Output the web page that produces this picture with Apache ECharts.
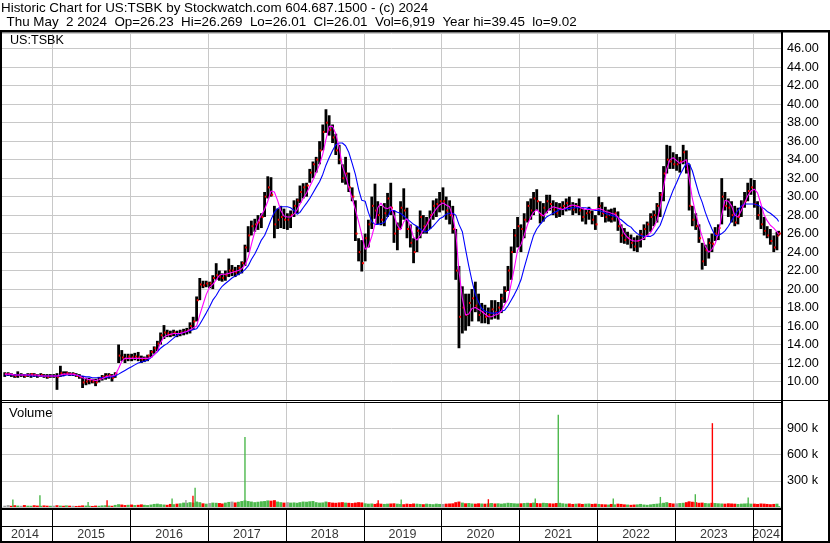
<!DOCTYPE html>
<html><head><meta charset="utf-8">
<script src="https://cdn.jsdelivr.net/npm/echarts@6/dist/echarts.min.js"></script>
<style>html,body{margin:0;padding:0;background:#fff;}#c{width:830px;height:543px;}</style>
</head><body><div id="c"></div>
<script>
const FONT = '"Liberation Sans", Arial, sans-serif';
const titleLine1 = 'Historic Chart for US:TSBK by Stockwatch.com 604.687.1500 - (c) 2024';
const titleLine2 = 'Thu May  2 2024  Op=26.23  Hi=26.269  Lo=26.01  Cl=26.01  Vol=6,919  Year hi=39.45  lo=9.02';
const symbolName = 'US:TSBK';
const volumeTitle = 'Volume';

// year labels of the bottom strip and where they sit
const years = ['2014','2015','2016','2017','2018','2019','2020','2021','2022','2023','2024'];
const yearLabelDates = ['2014-08-26','2015-07-02','2016-07-02','2017-07-02','2018-07-02','2019-07-02','2020-07-02','2021-07-02','2022-07-02','2023-07-02','2024-03-03'];
const yearStarts = ['2015-01-01','2016-01-01','2017-01-01','2018-01-01','2019-01-01','2020-01-01','2021-01-01','2022-01-01','2023-01-01','2024-01-01'];
const axisStart = '2014-05-10', axisEnd = '2024-05-12';

// half-month periods: 2014 May(2nd half) ... 2024 Apr, then 2024-05-01
const lows = [
 10.5,10.6,10.5,10.4,10.4,10.5,10.4,10.5,10.4,10.5,10.4,10.5,10.4,10.3,10.4,
 10.4,9.1,10.5,10.6,10.7,10.6,10.6,10.5,10.3,9.3,9.6,9.7,9.8,9.5,9.9,10.1,10.2,10.3,10.0,10.4,12.0,12.2,12.0,12.2,
 12.2,12.3,12.2,12.0,12.1,12.2,12.6,13.0,13.3,14.0,14.6,14.8,14.8,14.9,14.8,14.9,15.0,15.1,15.2,15.6,16.5,18.8,20.1,20.2,
 20.1,20.0,21.0,20.9,20.8,20.9,21.3,21.4,21.3,21.5,21.7,22.5,24.0,25.8,26.2,26.4,26.6,27.8,29.8,30.0,25.5,26.5,26.6,26.5,
 26.4,26.6,27.8,28.2,29.3,29.8,30.0,31.5,32.0,32.6,33.5,35.0,36.9,36.6,35.8,34.5,33.5,31.5,31.3,30.5,29.5,25.2,23.0,21.9,
 23.0,24.5,26.5,27.6,27.0,26.9,26.8,27.8,28.0,25.0,24.2,26.5,27.5,25.5,24.5,22.8,24.0,25.5,26.0,26.0,26.5,27.5,27.8,28.3,
 28.5,27.5,27.0,26.0,21.0,13.6,15.2,15.5,16.0,16.5,17.5,16.5,16.3,16.3,16.2,16.7,16.8,16.7,17.4,18.5,19.8,21.0,23.9,24.5,
 24.0,25.5,27.2,27.5,28.0,28.5,27.1,27.3,28.2,28.5,28.0,27.7,27.8,28.0,28.4,28.5,28.0,28.2,28.0,27.3,27.0,27.5,27.0,26.4,
 28.0,27.8,27.2,27.3,27.2,27.3,26.3,25.0,24.9,24.8,24.4,24.1,24.0,24.5,25.3,25.8,26.2,26.8,27.2,27.8,29.5,32.5,33.0,33.0,
 32.8,32.6,33.5,32.5,28.5,26.8,26.4,25.0,22.1,22.5,23.3,24.0,25.2,25.3,27.0,28.5,27.8,27.2,26.8,27.0,27.8,28.8,29.5,30.2,
 28.8,27.5,26.5,25.8,25.5,24.8,24.0,24.2,25.8
];
const highs = [
 11.0,11.0,10.9,10.8,11.1,10.9,10.8,10.9,10.9,10.9,10.8,10.9,10.8,10.8,10.8,
 10.8,10.9,11.7,11.1,11.1,11.0,11.0,10.9,10.8,10.6,10.4,10.4,10.3,10.3,10.5,10.7,10.9,10.9,10.8,11.0,14.0,13.4,13.0,13.0,
 13.0,13.1,13.2,12.8,12.7,12.9,13.4,13.8,14.4,15.3,16.1,15.6,15.5,15.6,15.5,15.6,15.7,15.8,16.4,17.0,19.2,21.2,20.9,20.9,
 20.8,21.5,22.8,22.0,21.7,22.0,23.3,22.6,22.4,22.6,23.0,24.8,26.8,27.4,27.6,28.0,28.2,30.5,32.2,32.1,29.0,28.7,29.0,28.7,
 28.2,28.5,29.6,29.8,31.2,31.45,31.5,33.0,33.8,34.3,36.0,37.8,39.45,38.8,37.8,36.8,35.6,33.5,34.3,32.6,31.0,29.6,25.5,25.3,
 26.0,27.5,30.0,31.4,29.5,29.0,29.3,30.4,31.5,28.5,27.2,29.5,30.9,28.8,27.0,25.5,26.8,28.5,28.0,27.8,28.5,29.6,29.8,30.5,
 31.0,30.0,29.6,29.0,26.5,22.5,20.3,19.5,19.5,20.0,20.8,19.5,18.5,18.3,18.0,18.8,18.8,18.6,19.5,20.3,22.5,24.6,26.5,27.8,
 27.0,28.2,29.5,29.8,30.5,30.8,29.5,29.3,30.2,30.2,29.6,29.4,29.3,29.5,29.8,30.0,29.4,29.3,29.8,28.8,28.6,28.9,28.5,28.0,
 30.0,29.4,28.9,28.6,28.7,28.8,28.4,27.0,26.6,26.2,25.9,25.6,25.8,26.4,27.0,27.3,28.2,28.5,29.3,30.5,33.3,35.6,35.5,34.8,
 34.6,34.3,35.6,35.0,33.5,29.0,28.2,27.0,25.0,24.8,25.5,26.0,26.7,27.0,32.0,30.5,29.8,29.5,29.0,28.8,29.6,30.5,31.5,32.0,
 31.8,29.5,28.9,27.8,26.8,26.5,25.8,26.2,26.3
];
const closes = [
 10.8,10.8,10.7,10.6,10.7,10.7,10.6,10.7,10.8,10.7,10.6,10.7,10.6,10.5,10.6,
 10.6,10.5,10.9,10.8,10.9,10.8,10.8,10.6,10.5,9.9,10.0,10.1,10.0,9.9,10.3,10.5,10.6,10.7,10.4,10.9,12.8,12.6,12.5,12.7,
 12.6,12.7,12.6,12.4,12.5,12.8,13.2,13.6,14.1,15.0,15.3,15.2,15.1,15.3,15.1,15.3,15.4,15.5,16.0,16.5,18.8,20.5,20.4,20.6,
 20.6,21.2,21.5,21.3,21.2,21.5,22.0,22.0,21.8,22.3,22.8,24.5,25.8,26.8,27.0,27.2,27.8,30.0,31.0,30.2,27.0,27.5,27.8,27.5,
 27.5,28.0,29.0,29.6,30.5,31.0,31.2,32.6,33.5,34.0,35.0,37.0,38.0,37.2,36.4,35.0,34.0,32.0,32.5,31.0,30.0,26.0,24.0,22.8,
 25.5,27.0,29.0,28.5,28.0,27.5,28.2,29.8,28.8,26.0,26.5,28.8,28.5,26.5,25.0,24.0,26.3,27.8,26.8,27.2,28.0,29.0,29.2,29.5,
 29.5,28.5,28.0,26.5,22.0,17.0,18.0,17.2,18.5,19.0,18.2,17.2,17.5,17.0,17.2,17.8,17.5,18.0,19.0,19.8,22.0,24.0,25.8,26.8,
 26.5,27.5,29.0,28.5,29.8,29.5,28.0,28.8,29.5,29.2,28.6,28.2,28.8,29.0,29.3,29.0,28.6,29.0,28.5,27.8,28.2,28.3,27.5,27.0,
 29.0,28.2,27.8,28.0,27.6,28.2,26.8,25.8,25.3,25.5,25.0,24.6,25.2,25.9,26.5,27.0,27.8,28.0,29.0,30.2,32.5,34.0,33.8,33.5,
 33.5,33.8,34.8,33.0,29.0,27.5,26.8,25.5,23.0,24.2,25.0,24.9,26.0,26.6,30.0,29.0,28.8,28.0,27.2,27.8,29.0,29.5,30.6,31.0,
 29.2,28.0,27.0,26.3,25.8,25.2,24.5,25.8,26.01
];
const shortAvg = [
 10.8,10.8,10.8,10.7,10.7,10.7,10.7,10.7,10.7,10.7,10.7,10.6,10.6,10.6,10.6,
 10.6,10.6,10.7,10.8,10.8,10.8,10.8,10.7,10.6,10.4,10.3,10.2,10.2,10.1,10.2,10.3,10.5,10.6,10.6,10.7,11.4,12.2,12.5,12.5,
 12.5,12.5,12.5,12.5,12.5,12.5,12.6,12.9,13.3,14.2,14.8,15.0,15.1,15.2,15.2,15.2,15.3,15.4,15.6,15.8,16.0,17.2,18.3,19.4,
 20.2,20.5,21.0,21.5,21.6,21.6,21.7,21.8,21.9,22.0,22.2,22.6,23.4,24.8,26.2,27.3,28.0,28.6,29.5,30.6,30.5,29.6,28.5,27.9,
 27.8,27.8,28.1,28.6,29.2,29.8,30.4,31.1,31.8,32.6,33.5,34.6,36.2,37.6,37.6,36.8,35.3,33.3,32.3,31.0,29.8,28.6,27.3,25.9,
 24.3,24.6,25.7,27.0,28.8,29.3,28.8,28.7,28.9,28.0,26.9,26.4,27.3,27.6,26.8,25.6,25.3,25.8,26.4,26.9,27.6,28.2,28.7,29.1,
 29.3,29.1,28.9,27.8,26.2,22.0,19.0,17.2,17.3,17.9,18.0,17.8,17.6,17.3,17.0,17.0,17.2,17.3,17.6,18.3,18.9,20.6,22.3,24.2,
 24.8,25.8,27.0,27.8,28.3,28.6,28.2,27.9,28.3,28.7,28.9,28.8,28.7,28.6,28.8,29.0,29.1,29.0,28.9,28.7,28.6,28.6,28.6,28.6,
 28.7,28.6,28.4,28.3,28.2,28.1,27.8,26.8,26.0,25.6,25.3,25.2,25.2,25.3,25.5,25.8,26.1,26.7,27.4,28.8,31.0,33.0,34.0,34.2,
 33.9,33.6,33.8,34.0,32.0,29.8,28.2,26.8,25.7,24.6,24.0,24.3,24.9,26.0,28.0,29.6,29.5,29.0,28.0,27.8,28.5,29.3,30.1,30.6,
 30.8,30.4,29.2,28.0,27.4,26.9,26.6,26.2,25.9
];
const longAvg = [
 10.7,10.7,10.7,10.7,10.7,10.7,10.7,10.7,10.6,10.6,10.6,10.6,10.6,10.6,10.6,
 10.6,10.6,10.6,10.6,10.7,10.7,10.7,10.7,10.6,10.6,10.5,10.5,10.4,10.4,10.4,10.4,10.4,10.5,10.5,10.6,10.8,11.0,11.2,11.4,
 11.6,11.8,12.0,12.1,12.2,12.3,12.6,12.9,13.2,13.6,13.9,14.1,14.4,14.7,15.0,15.2,15.3,15.4,15.5,15.6,15.7,16.2,16.8,17.4,
 18.1,18.8,19.3,19.9,20.3,20.6,20.9,21.2,21.4,21.6,21.8,22.1,22.5,23.2,23.8,24.5,25.3,25.8,26.6,27.5,28.3,28.7,28.9,28.9,
 28.9,28.8,28.5,28.1,28.3,28.8,29.3,29.8,30.4,31.0,31.6,32.4,33.4,34.2,35.0,35.6,35.8,35.8,35.5,34.8,33.6,32.4,30.8,29.6,
 29.5,28.3,27.3,27.0,27.0,27.1,27.2,27.8,28.5,28.5,28.3,28.2,27.9,27.6,27.3,27.0,26.8,26.5,26.2,26.2,26.5,26.8,27.2,27.6,
 27.8,28.1,28.2,28.2,28.0,27.0,26.2,24.3,22.5,20.9,19.4,18.6,17.9,17.6,17.5,17.4,17.4,17.5,17.6,17.7,18.2,18.8,19.4,20.1,
 21.0,22.3,23.6,24.8,25.8,26.5,27.0,27.4,27.8,28.0,28.2,28.4,28.6,28.6,28.7,28.7,28.8,28.8,28.8,28.8,28.8,28.7,28.6,28.5,
 28.5,28.4,28.2,28.1,28.0,27.9,27.7,27.5,27.2,26.9,26.7,26.3,26.0,25.8,25.7,25.7,25.7,25.9,26.4,26.9,27.9,28.9,29.8,30.7,
 31.5,32.3,33.0,33.6,33.6,32.8,31.5,30.3,29.4,28.3,27.3,26.5,25.8,25.8,26.0,26.3,26.8,27.4,28.0,28.5,29.0,29.2,29.2,29.2,
 29.2,29.1,28.9,28.7,28.4,28.2,27.9,27.6,27.3
];
// volume, thousands of shares (typical level in each half-month)
const volumes = [
 15,22,14,20,16,14,22,15,14,20,16,14,18,15,14,
 15,20,16,14,18,15,14,12,14,18,16,14,12,16,14,18,20,16,14,24,32,28,22,25,
 28,22,25,30,25,22,28,35,38,32,28,25,35,32,38,42,50,48,55,50,62,55,42,38,
 45,50,48,45,40,50,58,62,52,60,68,75,68,62,55,60,65,68,75,72,78,62,55,50,
 55,50,52,48,55,62,60,65,68,55,50,52,62,55,50,48,52,55,50,48,45,50,55,52,
 42,38,40,35,42,38,35,38,40,42,38,35,32,38,35,40,38,35,32,38,35,32,38,35,
 35,38,40,42,55,62,50,42,45,40,38,42,40,38,42,45,40,42,38,42,48,45,42,40,
 42,45,48,44,50,45,42,48,45,42,40,45,48,42,38,40,35,38,40,35,38,40,35,38,
 35,32,30,28,35,30,38,35,30,28,25,28,30,35,28,25,30,35,38,42,48,55,45,40,
 42,45,48,55,65,60,55,48,50,45,42,48,45,42,40,38,42,40,38,35,38,40,42,38,
 38,35,40,38,35,32,35,38,10
];
// single heavy-volume days (thousands)
const spikeUpDates = ['2014-06-30','2014-11-04','2015-06-18','2016-07-16','2016-11-01','2017-06-23','2019-06-26','2021-03-16','2021-07-02','2022-03-17','2022-10-24','2023-04-06','2023-12-10'];
const spikeUpValues = [85,135,58,96,220,800,85,96,1055,96,115,146,108];
const spikeDownDates = ['2015-09-15','2016-10-22','2019-03-10','2020-08-08','2023-06-25'];
const spikeDownValues = [77,130,77,89,958];
const spikeFlatDates = ['2016-09-19'];
const spikeFlatValues = [80];

// ---------- build ----------
const ts = s => { const p = s.split('-').map(Number); return new Date(p[0], p[1] - 1, p[2]).getTime(); };
const periodDates = [];
for (let y = 2014; y <= 2024; y++) {
  for (let m = 1; m <= 12; m++) {
    for (const d of [8, 23]) {
      const s = y + '-' + String(m).padStart(2, '0') + '-' + String(d).padStart(2, '0');
      if (s >= '2014-05-16' && s <= '2024-04-30') periodDates.push(s);
    }
  }
}
periodDates.push('2024-05-01');
const T = periodDates.map(ts);

const GRID_C = '#c8c8c8';
const GREEN = '#4cb84c', RED = '#ff0000', GREY = '#a0a0a0';

const ohlcData = T.map((t, i) => [t, lows[i], highs[i], closes[i]]);
const volData = T.map((t, i) => [t, volumes[i], i === 0 ? 0 : Math.sign(closes[i] - closes[i - 1])]);

function yearLineSeries(xi, color) {
  return {
    type: 'custom', xAxisIndex: xi, yAxisIndex: xi, clip: false, silent: true, z: 1,
    data: yearStarts.map(s => [ts(s), 0]), encode: { x: 0, y: 1 },
    renderItem: (params, api) => {
      const x = Math.round(api.coord([api.value(0), 0])[0]) + 0.5;
      const cs = params.coordSys;
      return { type: 'line', shape: { x1: x, y1: cs.y, x2: x, y2: cs.y + cs.height }, style: { stroke: color, lineWidth: 1 } };
    }
  };
}
function volBarSeries(data, color, w) {
  return {
    type: 'custom', xAxisIndex: 1, yAxisIndex: 1, clip: true, silent: true, z: 3,
    data: data, encode: { x: 0, y: 1 },
    renderItem: (params, api) => {
      const top = api.coord([api.value(0), api.value(1)]);
      const base = api.coord([api.value(0), 0]);
      let c = color;
      if (!c) { const d = api.value(2); c = d > 0 ? GREEN : (d < 0 ? RED : GREY); }
      return { type: 'rect', shape: { x: top[0] - w / 2, y: top[1], width: w, height: base[1] - top[1] }, style: { fill: c } };
    }
  };
}

const chart = echarts.init(document.getElementById('c'), null, { renderer: 'canvas' });
const txt = (text, x, y, size) => ({ type: 'text', x: x, y: y, z: 120, silent: true,
  style: { text: text, fill: '#000', font: size + 'px ' + FONT, verticalAlign: 'middle', align: 'left' } });
const box = (x, y, w, h) => ({ type: 'rect', z: 110, silent: true, shape: { x: x, y: y, width: w, height: h }, style: { fill: '#000' } });

chart.setOption({
  animation: false,
  backgroundColor: '#fff',
  grid: [
    { left: 2, top: 33, width: 779, height: 367 },
    { left: 2, top: 402, width: 779, height: 105 },
    { left: 2, top: 510, width: 779, height: 31 }
  ],
  xAxis: [0, 1, 2].map(i => ({ gridIndex: i, type: 'time', min: ts(axisStart), max: ts(axisEnd), show: false })),
  yAxis: [
    { gridIndex: 0, type: 'value', position: 'right', min: 8, max: 47.7, interval: 2,
      axisLine: { show: false }, axisTick: { show: false },
      splitLine: { show: true, lineStyle: { color: GRID_C, width: 1 } },
      axisLabel: { margin: 6, color: '#000', fontSize: 12.7, fontFamily: FONT, showMinLabel: false, showMaxLabel: false,
        formatter: v => v.toFixed(2) } },
    { gridIndex: 1, type: 'value', position: 'right', min: 0, max: 1200, interval: 300,
      axisLine: { show: false }, axisTick: { show: false },
      splitLine: { show: true, lineStyle: { color: GRID_C, width: 1 } },
      axisLabel: { margin: 6, color: '#000', fontSize: 12.7, fontFamily: FONT, showMinLabel: false, showMaxLabel: false,
        formatter: v => v + ' k' } },
    { gridIndex: 2, type: 'value', min: 0, max: 1, show: false }
  ],
  series: [
    yearLineSeries(0, GRID_C),
    yearLineSeries(1, GRID_C),
    yearLineSeries(2, '#000'),
    {
      type: 'custom', name: 'price', xAxisIndex: 0, yAxisIndex: 0, clip: true, silent: true, z: 2,
      data: ohlcData, encode: { x: 0, y: [1, 2, 3] },
      renderItem: (params, api) => {
        const t = api.value(0);
        const lo = api.coord([t, api.value(1)]);
        const hi = api.coord([t, api.value(2)]);
        const cl = api.coord([t, api.value(3)]);
        return { type: 'group', children: [
          { type: 'rect', shape: { x: lo[0] - 1.4, y: hi[1], width: 2.8, height: Math.max(1, lo[1] - hi[1]) }, style: { fill: '#000' } },
          { type: 'rect', shape: { x: cl[0] + 0.2, y: cl[1] - 1, width: 2, height: 2 }, style: { fill: RED } }
        ] };
      }
    },
    { type: 'line', xAxisIndex: 0, yAxisIndex: 0, data: T.map((t, i) => [t, longAvg[i]]), showSymbol: false, symbol: 'none',
      lineStyle: { color: '#0000ff', width: 1.1 }, z: 4, silent: true },
    { type: 'line', xAxisIndex: 0, yAxisIndex: 0, data: T.map((t, i) => [t, shortAvg[i]]), showSymbol: false, symbol: 'none',
      lineStyle: { color: '#ff00ff', width: 1.1 }, z: 5, silent: true },
    volBarSeries(volData, null, 3),
    volBarSeries(spikeUpDates.map((d, i) => [ts(d), spikeUpValues[i]]), GREEN, 1.4),
    volBarSeries(spikeDownDates.map((d, i) => [ts(d), spikeDownValues[i]]), RED, 1.4),
    volBarSeries(spikeFlatDates.map((d, i) => [ts(d), spikeFlatValues[i]]), GREY, 1.4),
    {
      type: 'scatter', xAxisIndex: 2, yAxisIndex: 2, silent: true, symbolSize: 1,
      itemStyle: { color: 'rgba(0,0,0,0)' },
      data: yearLabelDates.map((d, i) => ({ value: [ts(d), 0.22], name: years[i] })),
      label: { show: true, position: 'inside', formatter: p => p.name, color: '#000', fontSize: 12.5, fontFamily: FONT }
    }
  ],
  graphic: [
    txt(titleLine1, 1, 8, 13.4),
    txt(titleLine2, 6.5, 22, 13.4),
    txt(symbolName, 10, 41, 12.6),
    txt(volumeTitle, 9, 413, 13),
    box(0, 30, 830, 2.5),      // top rule
    box(0, 30, 2, 513),        // left edge
    box(828, 30, 2, 513),      // right edge
    box(781, 30, 2, 513),      // axis separator
    box(0, 400, 830, 1),       // price pane bottom
    box(0, 402, 781, 1),       // volume pane top
    box(0, 508, 781, 2),       // volume baseline
    box(0, 526, 781, 1),       // year strip rule
    box(0, 541, 830, 2)        // bottom edge
  ]
});
</script>
</body></html>
